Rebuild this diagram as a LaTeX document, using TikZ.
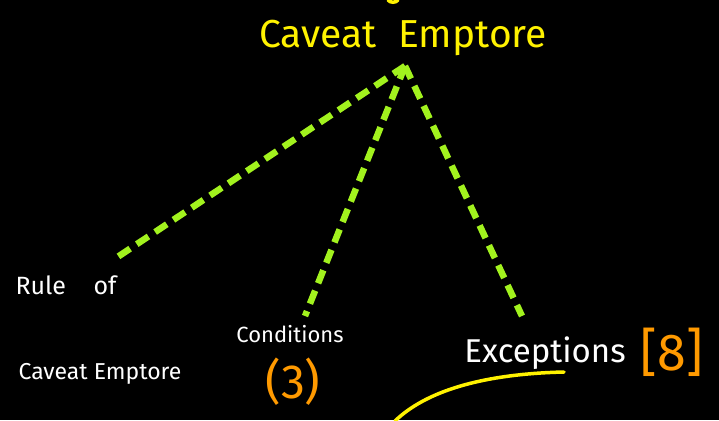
\documentclass[tikz,border=0pt]{standalone}
\usepackage{fontspec}
\setmainfont{Fira Sans}
\definecolor{hyellow}{HTML}{FFF200}
\definecolor{hgreen}{HTML}{A2F21E}
\definecolor{horange}{HTML}{FF9A00}
\begin{document}
\begin{tikzpicture}[x=1pt,y=-1pt,
  title/.style={text=hyellow,font=\fontsize{39}{40}\selectfont,inner sep=0pt},
  wtext/.style={text=white,inner sep=0pt},
  otext/.style={text=horange,inner sep=0pt},
  branch/.style={draw=hgreen,line width=6.5pt,dash pattern=on 14pt off 8pt},
  pen/.style={draw=hyellow,line width=3.5pt,line cap=round}]
\fill[black] (0,0) rectangle (719,420);
\useasboundingbox (0,0) rectangle (719,420);
\draw[pen] (388,0) .. controls (390,3) and (396,3) .. (398,0);
\node[title] (title) at (403,38) {Caveat\hspace{0.3em} Emptore};
\coordinate (root) at (405,66);
\node[wtext,font=\fontsize{25}{26}\selectfont] (rule) at (66,285) {Rule\hspace{1.1em}of};
\node[wtext,font=\fontsize{23}{24}\selectfont] (ce) at (100,374) {Caveat Emptore};
\node[wtext,font=\fontsize{22}{24}\selectfont] (cond) at (290,334) {Conditions};
\node[otext,font=\fontsize{48}{50}\selectfont] (three) at (293,382) {(3)};
\node[wtext,font=\fontsize{33}{34}\selectfont] (exc) at (545,353) {Exceptions};
\node[otext,font=\fontsize{52}{54}\selectfont] (eight) at (672,352) {[8]};
\coordinate (e1) at (113,260);
\coordinate (e2) at (305,316);
\coordinate (e3) at (522,316);
\draw[branch] (root) -- (e1);
\draw[branch] (root) -- (e2);
\draw[branch] (root) -- (e3);
\coordinate (c0) at (395,421);
\coordinate (c1) at (564,372);
\draw[pen] (c0) .. controls (425,392) and (480,374) .. (c1);
\end{tikzpicture}
\end{document}
